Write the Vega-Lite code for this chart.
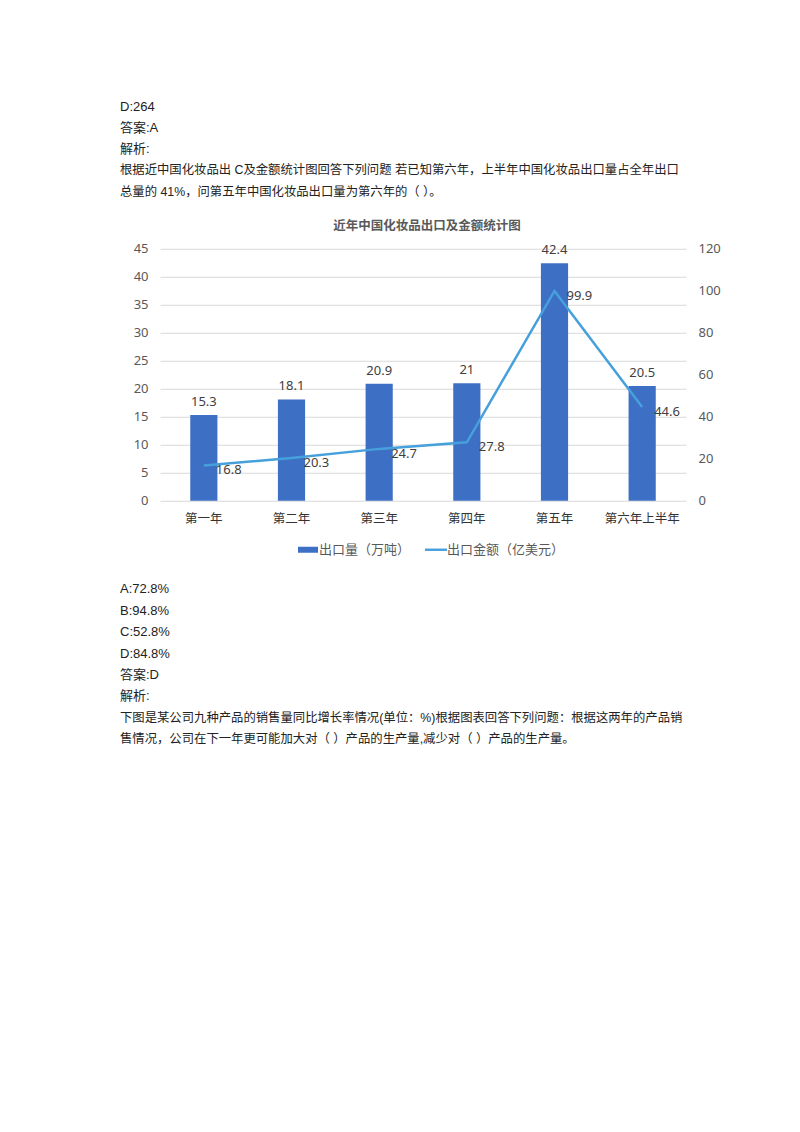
{
  "$schema": "https://vega.github.io/schema/vega-lite/v6.json",
  "background": "white",
  "padding": {"left": 120, "top": 96, "right": 40, "bottom": 40},
  "bounds": "flush",
  "spacing": 45.75,
  "config": {
    "view": {"stroke": null},
    "font": "Noto Sans CJK SC"
  },
  "resolve": {"scale": {"color": "independent"}, "legend": {"color": "independent"}},
  "vconcat": [
    {
      "width": 600,
      "height": 106.25,
      "data": {"values": [
        {"line": 1, "kind": "opt", "text": "D:264"},
        {"line": 2, "kind": "opt", "text": "答案:A"},
        {"line": 3, "kind": "opt", "text": "解析:"},
        {"line": 4, "kind": "para", "text": "根据近中国化妆品出 C及金额统计图回答下列问题  若已知第六年，上半年中国化妆品出口量占全年出口"},
        {"line": 5, "kind": "para", "text": "总量的 41%，问第五年中国化妆品出口量为第六年的（ ）。"}
      ]},
      "mark": {"type": "text", "align": "left", "baseline": "middle", "dx": -40, "color": "#222222", "font": "Liberation Sans, Noto Sans CJK SC"},
      "encoding": {
        "x": {"datum": 0, "type": "quantitative", "scale": {"domain": [0, 1], "nice": false, "zero": false}, "axis": null},
        "y": {"field": "line", "type": "quantitative", "scale": {"domain": [0.5, 5.5], "reverse": true, "nice": false, "zero": false}, "axis": null},
        "text": {"field": "text"},
        "size": {"field": "kind", "type": "nominal", "scale": {"domain": ["opt", "para"], "range": [13, 12.35]}, "legend": null}
      }
    },
    {
      "width": 526,
      "height": 252,
      "title": {"text": "近年中国化妆品出口及金额统计图", "fontSize": 12.5, "fontWeight": "bold", "color": "#595959", "font": "Noto Sans CJK SC", "offset": 10, "anchor": "middle", "dx": 4},
      "data": {"values": [
        {"year": "第一年", "qty": 15.3, "amount": 16.8},
        {"year": "第二年", "qty": 18.1, "amount": 20.3},
        {"year": "第三年", "qty": 20.9, "amount": 24.7},
        {"year": "第四年", "qty": 21, "amount": 27.8},
        {"year": "第五年", "qty": 42.4, "amount": 99.9},
        {"year": "第六年上半年", "qty": 20.5, "amount": 44.6}
      ]},
      "encoding": {
        "x": {"field": "year", "type": "nominal", "sort": null,
          "scale": {"paddingInner": 0.69, "paddingOuter": 0.345},
          "axis": {"title": null, "labelAngle": 0, "ticks": false, "domain": false, "labelPadding": 12, "labelFont": "Noto Sans CJK SC", "labelFontSize": 12.5, "labelColor": "#333333"}}
      },
      "layer": [
        {
          "encoding": {
            "y": {"field": "qty", "type": "quantitative", "scale": {"domain": [0, 45], "nice": false},
              "axis": {"title": null, "orient": "left", "values": [0, 5, 10, 15, 20, 25, 30, 35, 40, 45], "labelOverlap": false, "ticks": false, "domain": false, "labelPadding": 12, "labelFont": "Noto Sans", "labelFontSize": 13, "labelColor": "#595959", "gridColor": "#d9d9d9", "gridWidth": 1}}
          },
          "layer": [
            {
              "mark": {"type": "bar", "color": "#3d6fc4"},
              "encoding": {
                "color": {"datum": "出口量（万吨）",
                  "scale": {"domain": ["出口量（万吨）", "出口金额（亿美元）"], "range": ["#3d6fc4", "#46a0dc"]},
                  "legend": {
                    "orient": "none", "legendX": 137, "legendY": 290, "direction": "horizontal", "title": null,
                    "labelFont": "Noto Sans CJK SC", "labelFontSize": 13, "labelColor": "#595959",
                    "columnPadding": 14, "labelOffset": 0, "symbolSize": 400,
                    "encode": {"symbols": {"update": {
                      "shape": {"signal": "datum.value === '出口量（万吨）' ? 'M-1,-0.3H1V0.3H-1Z' : 'M-1,-0.11H1V0.11H-1Z'"},
                      "size": {"signal": "datum.value === '出口量（万吨）' ? 400 : 484"},
                      "fill": {"signal": "datum.value === '出口量（万吨）' ? '#3d6fc4' : '#46a0dc'"},
                      "stroke": {"value": "transparent"},
                      "strokeWidth": {"value": 0},
                      "opacity": {"value": 1}
                    }}}
                  }}
              }
            },
            {
              "mark": {"type": "text", "baseline": "bottom", "dy": -6, "font": "Noto Sans", "fontSize": 13, "color": "#404040"},
              "encoding": {
                "text": {"field": "qty"}
              }
            }
          ]
        },
        {
          "encoding": {
            "y": {"field": "amount", "type": "quantitative", "scale": {"domain": [0, 120], "nice": false},
              "axis": {"title": null, "orient": "right", "values": [0, 20, 40, 60, 80, 100, 120], "labelOverlap": false, "grid": false, "ticks": false, "domain": false, "labelPadding": 12, "labelFont": "Noto Sans", "labelFontSize": 13, "labelColor": "#595959"}}
          },
          "layer": [
            {
              "mark": {"type": "line", "strokeWidth": 2.5},
              "encoding": {
                "color": {"datum": "出口金额（亿美元）"}
              }
            },
            {
              "mark": {"type": "text", "align": "left", "baseline": "middle", "dx": 12, "dy": 5, "font": "Noto Sans", "fontSize": 13, "color": "#404040"},
              "encoding": {
                "text": {"field": "amount"}
              }
            }
          ]
        }
      ],
      "resolve": {"scale": {"y": "independent"}}
    },
    {
      "width": 600,
      "height": 203.3,
      "data": {"values": [
        {"line": 1, "kind": "opt", "text": "A:72.8%"},
        {"line": 2, "kind": "opt", "text": "B:94.8%"},
        {"line": 3, "kind": "opt", "text": "C:52.8%"},
        {"line": 4, "kind": "opt", "text": "D:84.8%"},
        {"line": 5, "kind": "opt", "text": "答案:D"},
        {"line": 6, "kind": "opt", "text": "解析:"},
        {"line": 7, "kind": "para", "text": "下图是某公司九种产品的销售量同比增长率情况(单位：%)根据图表回答下列问题：根据这两年的产品销"},
        {"line": 8, "kind": "para", "text": "售情况，公司在下一年更可能加大对（ ）产品的生产量,减少对（ ）产品的生产量。"}
      ]},
      "mark": {"type": "text", "align": "left", "baseline": "middle", "dx": -40, "color": "#222222", "font": "Liberation Sans, Noto Sans CJK SC"},
      "encoding": {
        "x": {"datum": 0, "type": "quantitative", "scale": {"domain": [0, 1], "nice": false, "zero": false}, "axis": null},
        "y": {"field": "line", "type": "quantitative", "scale": {"domain": [-1, 8.5], "reverse": true, "nice": false, "zero": false}, "axis": null},
        "text": {"field": "text"},
        "size": {"field": "kind", "type": "nominal", "scale": {"domain": ["opt", "para"], "range": [13, 12.2]}, "legend": null}
      }
    }
  ]
}
